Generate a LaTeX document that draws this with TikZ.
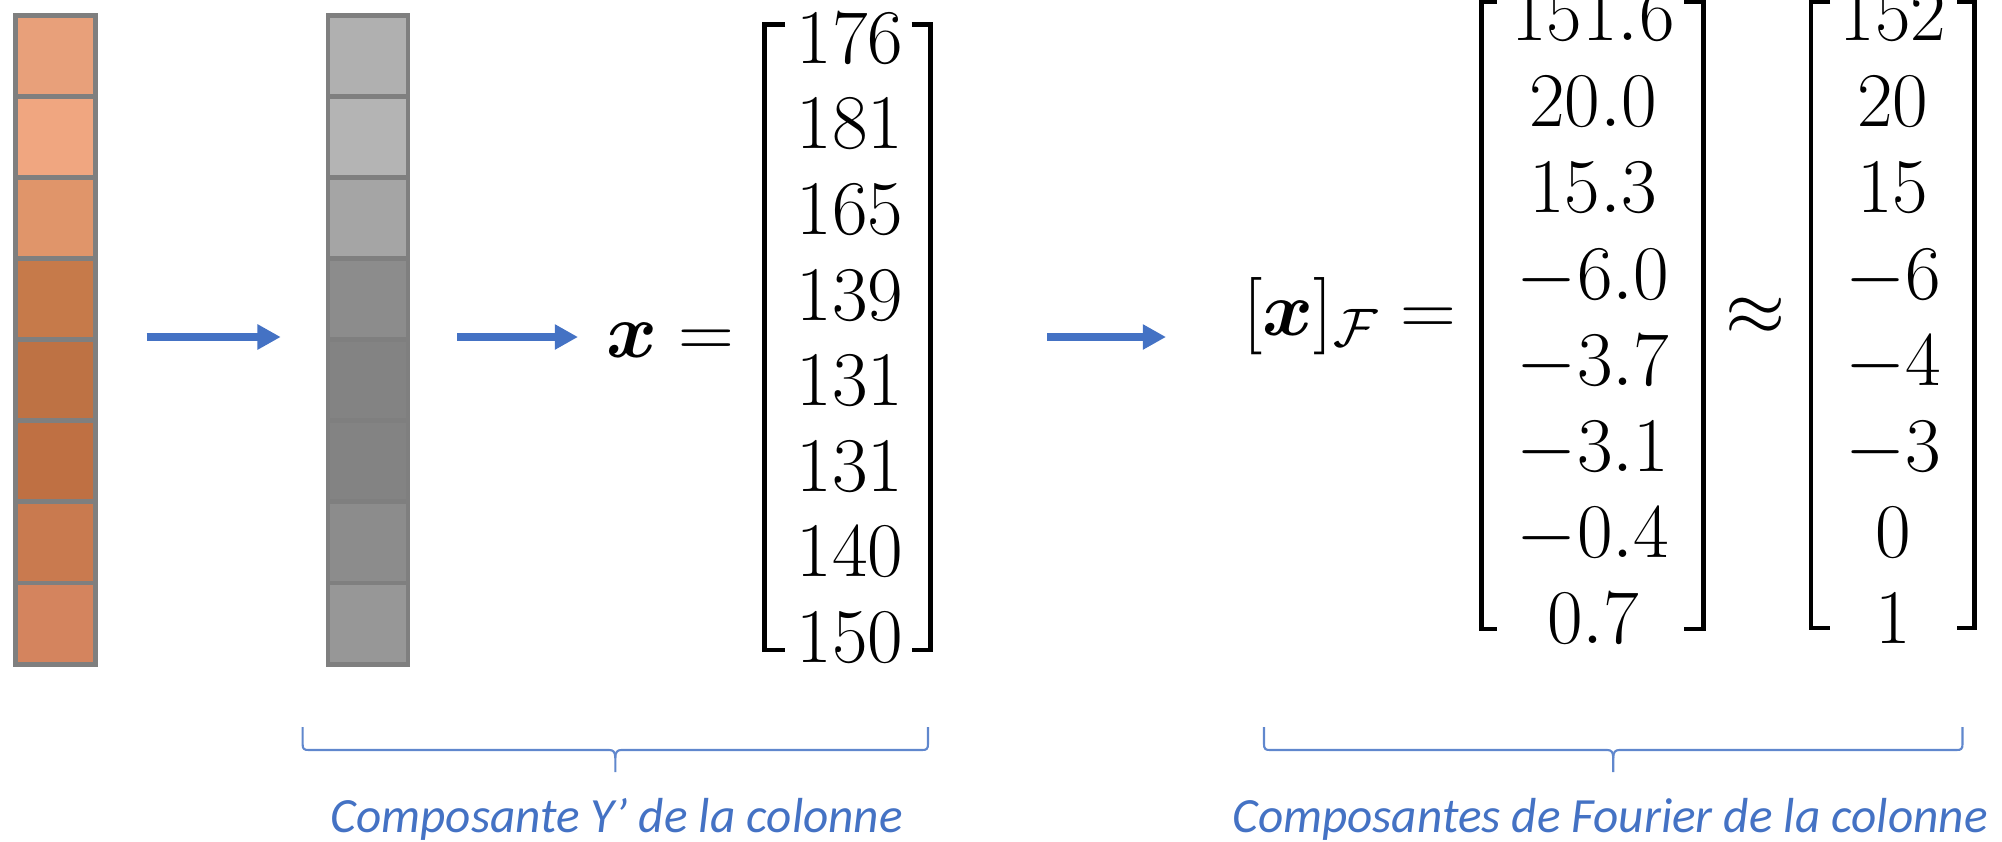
\RequirePackage{fix-cm}
\documentclass[tikz,border=0pt]{standalone}
\usepackage{fontspec}
\usepackage{amsmath,bm}
\usetikzlibrary{arrows.meta}
\newfontfamily\legendefont{Carlito}
\definecolor{bleu}{HTML}{4472C4}
\definecolor{bord}{HTML}{7F7F7F}
\begin{document}
\begin{tikzpicture}[x=0.01cm, y=-0.01cm, line join=miter,
	cellule/.style={draw=bord, line width=1.4pt},
	fleche/.style={bleu, line width=2pt, -{Triangle[length=6.6pt,width=6.8pt]}},
	crochet/.style={line width=1.3pt},
	nombre/.style={anchor=base, inner sep=0pt, font=\fontsize{22}{26}\selectfont},
	accolade/.style={bleu!85, line width=0.6pt},
	legende/.style={anchor=base, inner sep=0pt, text=bleu, font=\legendefont\itshape\fontsize{14}{17}\selectfont}]
	\useasboundingbox (0,0) rectangle (2002,842);
	\clip (0,0) rectangle (2002,842);
	\def\h{81.1}
	% la colonne et sa composante Y'
	\foreach \c [count=\i from 0] in {E8A07A,F0A680,E0956A,C67A4A,BE7244,BF7043,C97A4F,D4845E}{
		\definecolor{cc}{HTML}{\c}
		\fill[cc] (15.5,{15.3+\h*\i}) rectangle ++(80,\h);}
	\foreach \c [count=\i from 0] in {B0B0B0,B4B4B4,A5A5A5,8C8C8C,838383,838383,8C8C8C,979797}{
		\definecolor{cc}{HTML}{\c}
		\fill[cc] (328,{15.3+\h*\i}) rectangle ++(80,\h);}
	\foreach \xa in {15.5,328}{
		\draw[cellule] (\xa,15.3) rectangle ++(80,{8*\h});
		\foreach \i in {1,...,7} \draw[cellule] (\xa,{15.3+\h*\i}) -- ++(80,0);}
	\path
	(146.7,337) coordinate (a1) (280.7,337) coordinate (b1)
	(457,337) coordinate (a2) (578,337) coordinate (b2)
	(1047,337) coordinate (a3) (1166,337) coordinate (b3)
	;
	\foreach \i in {1,2,3} \draw[fleche] (a\i) -- (b\i);
	% x
	\node[nombre, anchor=base east] (vx) at (735,357) {$\bm{x} =$};
	\foreach \v [count=\i from 0] in {176,181,165,139,131,131,140,150}
		\node[nombre] (x\i) at (850,{63.3+85.6*\i}) {$\v$};
	\draw[crochet] (785,24.7) -| (764.7,650) -- (785,650);
	\draw[crochet] (911.7,24.7) -| (930.7,650) -- (911.7,650);
	% [x]_F
	\node[nombre, anchor=base east] (vf) at (1457,335) {$[\bm{x}]_{\mathcal{F}} =$};
	\foreach \v [count=\i from 0] in {151.6,20.0,15.3,-6.0,-3.7,-3.1,-0.4,0.7}
		\node[nombre] (f\i) at (1593,{40.7+86.1*\i}) {$\v$};
	\draw[crochet] (1496.7,1.5) -| (1481.7,629) -- (1496.7,629);
	\draw[crochet] (1684,1.5) -| (1703.2,629) -- (1684,629);
	\node[nombre] (env) at (1756,335) {$\approx$};
	\foreach \v [count=\i from 0] in {152,20,15,-6,-4,-3,0,1}
		\node[nombre] (r\i) at (1893,{40.7+86.1*\i}) {$\v$};
	\draw[crochet] (1830,1.5) -| (1810.8,628) -- (1830,628);
	\draw[crochet] (1956.7,1.5) -| (1974.5,628) -- (1956.7,628);
	% accolades
	\foreach \a/\b in {302.6/928,1264/1962.5}{
		\pgfmathsetmacro\m{(\a+\b)/2}
		\draw[accolade] (\a,727) -- (\a,744) .. controls (\a,749) and ({\a+1.5},750) .. ({\a+6},750) -- ({\m-6},750) .. controls ({\m-2},750) and (\m,752) .. (\m,758) -- (\m,772);
		\draw[accolade] (\b,727) -- (\b,744) .. controls (\b,749) and ({\b-1.5},750) .. ({\b-6},750) -- ({\m+6},750) .. controls ({\m+2},750) and (\m,752) .. (\m,758);}
	\node[legende] (l1) at (616.7,832) {Composante Y’ de la colonne};
	\node[legende] (l2) at (1610,832) {Composantes de Fourier de la colonne};
\end{tikzpicture}
\end{document}
